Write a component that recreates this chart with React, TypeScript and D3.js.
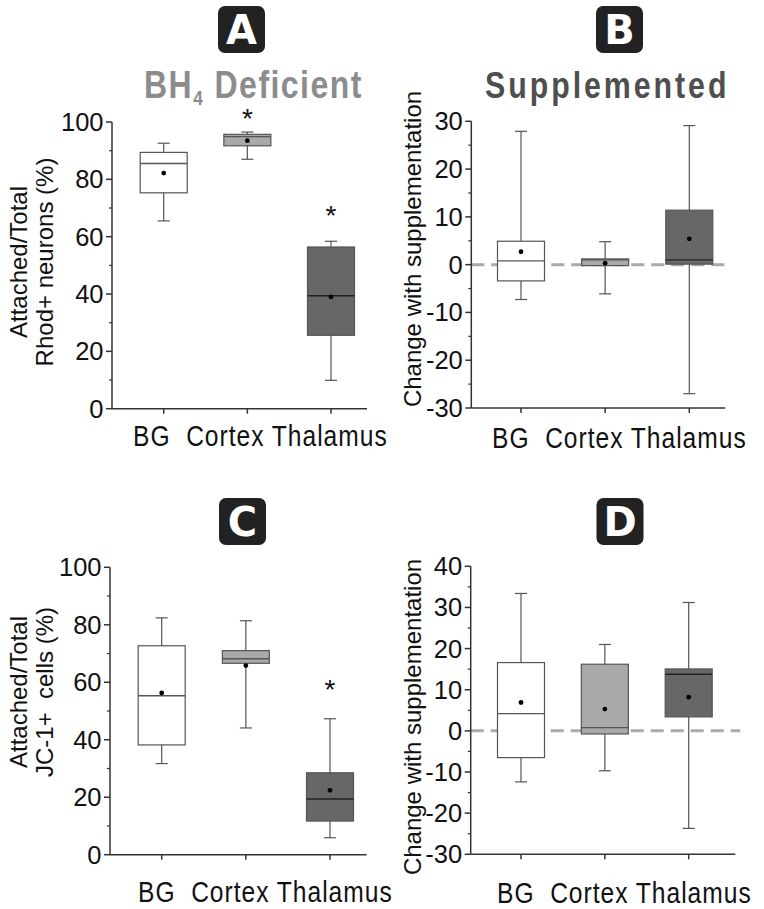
import React from "react";
import * as d3 from "d3";

const categories = ["BG", "Cortex", "Thalamus"];
const boxFills = ["#ffffff", "#a9a9a9", "#676767"];

// Panel A — BH4 deficient, Rhod+ neurons (%)
const aMin = [65.5, 87.0, 9.9];
const aQ1 = [75.3, 91.7, 25.6];
const aMed = [85.5, 94.9, 39.4];
const aQ3 = [89.4, 95.7, 56.4];
const aMax = [92.6, 96.5, 58.4];
const aMean = [82.2, 93.5, 39.0];
const aSig = [null, 103.5, 69.5];

// Panel B — change with supplementation
const bMin = [-7.3, -6.1, -27.0];
const bQ1 = [-3.4, -0.2, 0.1];
const bMed = [0.8, 1.0, 1.0];
const bQ3 = [4.9, 1.2, 11.4];
const bMax = [27.9, 4.8, 29.1];
const bMean = [2.7, 0.3, 5.4];

// Panel C — JC-1+ cells (%)
const cMin = [31.7, 44.1, 5.9];
const cQ1 = [38.2, 66.6, 11.7];
const cMed = [55.3, 68.2, 19.4];
const cQ3 = [72.7, 71.0, 28.5];
const cMax = [82.4, 81.4, 47.3];
const cMean = [56.3, 65.8, 22.4];
const cSig = [null, null, 59.6];

// Panel D — change with supplementation
const dMin = [-12.4, -9.7, -23.7];
const dQ1 = [-6.5, -0.75, 3.4];
const dMed = [4.2, 0.8, 13.75];
const dQ3 = [16.6, 16.2, 15.05];
const dMax = [33.4, 21.0, 31.2];
const dMean = [6.9, 5.3, 8.2];

const SANS = "'Liberation Sans', Arial, Helvetica, sans-serif";
const BADGE = "'DejaVu Sans', 'Liberation Sans', sans-serif";
const NARROW_SCALE = 0.82;

type Panel = {
  letter: string;
  min: number[]; q1: number[]; med: number[]; q3: number[]; max: number[]; mean: number[];
  sig: (number | null)[];
  domain: [number, number];
  majorStep: number; minorStep: number;
  axisX: number; xEnd: number; yTop: number; yBottom: number;
  catRange: [number, number];
  catLabelX: number; catLabelY: number;
  zero: boolean;
  titleLines: string[]; titleX: number[]; titleCY: number;
  badgeCX: number; badgeY: number;
};

const panels: Panel[] = [
  {
    letter: "A", min: aMin, q1: aQ1, med: aMed, q3: aQ3, max: aMax, mean: aMean, sig: aSig,
    domain: [0, 100], majorStep: 20, minorStep: 10,
    axisX: 112, xEnd: 367, yTop: 122, yBottom: 408.7, catRange: [163.7, 331],
    catLabelX: 133, catLabelY: 446, zero: false,
    titleLines: ["Attached/Total", "Rhod+ neurons (%)"], titleX: [27, 53], titleCY: 262,
    badgeCX: 241.5, badgeY: 6,
  },
  {
    letter: "B", min: bMin, q1: bQ1, med: bMed, q3: bQ3, max: bMax, mean: bMean, sig: [null, null, null],
    domain: [-30, 30], majorStep: 10, minorStep: 5,
    axisX: 471.3, xEnd: 725.3, yTop: 121.3, yBottom: 408, catRange: [521, 689.3],
    catLabelX: 492, catLabelY: 448, zero: true,
    titleLines: ["Change with supplementation"], titleX: [421], titleCY: 249,
    badgeCX: 619.5, badgeY: 6,
  },
  {
    letter: "C", min: cMin, q1: cQ1, med: cMed, q3: cQ3, max: cMax, mean: cMean, sig: cSig,
    domain: [0, 100], majorStep: 20, minorStep: 10,
    axisX: 110, xEnd: 366.7, yTop: 567.3, yBottom: 854.7, catRange: [161.7, 330],
    catLabelX: 138, catLabelY: 902, zero: false,
    titleLines: ["Attached/Total", "JC-1+  cells (%)"], titleX: [27, 53], titleCY: 692,
    badgeCX: 242.5, badgeY: 498,
  },
  {
    letter: "D", min: dMin, q1: dQ1, med: dMed, q3: dQ3, max: dMax, mean: dMean, sig: [null, null, null],
    domain: [-30, 40], majorStep: 10, minorStep: 5,
    axisX: 470.7, xEnd: 735.3, yTop: 566.3, yBottom: 854.3, catRange: [521, 688.7],
    catLabelX: 497, catLabelY: 903, zero: true,
    titleLines: ["Change with supplementation"], titleX: [421], titleCY: 717,
    badgeCX: 620, badgeY: 498,
  },
];

const BOX_W = 47;
const CAP_W = 12;
const AXIS = "#333333";
const LINE = "#555555";

function PanelView({ p }: { p: Panel }) {
  const y = d3.scaleLinear().domain(p.domain).range([p.yBottom, p.yTop]);
  const x = d3.scalePoint<string>().domain(categories).range(p.catRange);
  const major = d3.range(p.domain[0], p.domain[1] + 1e-9, p.majorStep);
  const minor = d3
    .range(p.domain[0], p.domain[1] + 1e-9, p.minorStep)
    .filter((v) => !major.some((m) => Math.abs(m - v) < 1e-9));

  return (
    <g>
      {/* badge */}
      <rect x={p.badgeCX - 23.5} y={p.badgeY} width={47} height={47} rx={7} fill="#222222" />
      <text x={p.badgeCX} y={p.badgeY + 38} textAnchor="middle" fontFamily={BADGE}
        fontWeight={900} fontSize={40} fill="#ffffff">{p.letter}</text>

      {/* y title */}
      {p.titleLines.map((t, i) => (
        <text key={i} transform={`translate(${p.titleX[i]},${p.titleCY}) rotate(-90)`}
          textAnchor="middle" fontFamily={SANS} fontSize={24} fill="#111"
          style={{ whiteSpace: "pre" }}>{t}</text>
      ))}

      {/* zero line */}
      {p.zero && (
        <line x1={p.axisX} x2={p.xEnd + 5} y1={y(0)} y2={y(0)} stroke="#aaaaaa"
          strokeWidth={3} strokeDasharray="13 7" />
      )}

      {/* boxes */}
      {categories.map((c, i) => {
        const cx = x(c)!;
        return (
          <g key={c}>
            <line x1={cx} x2={cx} y1={y(p.min[i])} y2={y(p.max[i])} stroke={LINE} strokeWidth={1.2} />
            <line x1={cx - CAP_W / 2} x2={cx + CAP_W / 2} y1={y(p.max[i])} y2={y(p.max[i])} stroke={LINE} strokeWidth={1.2} />
            <line x1={cx - CAP_W / 2} x2={cx + CAP_W / 2} y1={y(p.min[i])} y2={y(p.min[i])} stroke={LINE} strokeWidth={1.2} />
            <rect x={cx - BOX_W / 2} width={BOX_W} y={y(p.q3[i])} height={y(p.q1[i]) - y(p.q3[i])}
              fill={boxFills[i]} stroke={LINE} strokeWidth={1.2} />
            <line x1={cx - BOX_W / 2} x2={cx + BOX_W / 2} y1={y(p.med[i])} y2={y(p.med[i])}
              stroke={i === 2 ? "#222" : LINE} strokeWidth={1.4} />
            <circle cx={cx} cy={y(p.mean[i])} r={2.4} fill="#000" />
            {p.sig[i] != null && (
              <text x={cx} y={y(p.sig[i] as number) + 16} textAnchor="middle" fontFamily={SANS}
                fontSize={28} fill="#111">*</text>
            )}
          </g>
        );
      })}

      {/* y axis */}
      <line x1={p.axisX} x2={p.axisX} y1={p.yTop} y2={p.yBottom} stroke={AXIS} strokeWidth={1.5} />
      {major.map((v) => (
        <g key={"M" + v}>
          <line x1={p.axisX - 6} x2={p.axisX} y1={y(v)} y2={y(v)} stroke={AXIS} strokeWidth={1.5} />
          <text x={p.axisX - 8.5} y={y(v) + 9} textAnchor="end" fontFamily={SANS} fontSize={25.5} fill="#111">{v}</text>
        </g>
      ))}
      {minor.map((v) => (
        <line key={"m" + v} x1={p.axisX - 3} x2={p.axisX} y1={y(v)} y2={y(v)} stroke={AXIS} strokeWidth={1.2} />
      ))}

      {/* x axis */}
      <line x1={p.axisX} x2={p.xEnd} y1={p.yBottom} y2={p.yBottom} stroke={AXIS} strokeWidth={1.5} />
      {categories.map((c) => (
        <line key={c} x1={x(c)!} x2={x(c)!} y1={p.yBottom} y2={p.yBottom + 5} stroke={AXIS} strokeWidth={1.5} />
      ))}
      <g transform={`translate(${p.catLabelX},${p.catLabelY}) scale(${NARROW_SCALE},1)`}>
        <text x={0} y={0} fontFamily={SANS} fontSize={30} letterSpacing={1.2}
          fill="#111" style={{ whiteSpace: "pre" }}>
          {categories[0] + "  " + categories[1] + " " + categories[2]}
        </text>
      </g>
    </g>
  );
}

export default function App() {
  return (
    <svg width={764} height={909} viewBox="0 0 764 909"
      style={{ position: "absolute", left: 0, top: 0, background: "#fff" }}>
      <rect width={764} height={909} fill="#fff" />
      <g transform={`translate(144,98) scale(${NARROW_SCALE},1)`}>
        <text x={0} y={0} fontFamily={SANS} fontWeight={700} fontSize={39} letterSpacing={1.8} fill="#8c8c8c">
          <tspan>BH</tspan>
          <tspan fontSize={21} dy={7}>4</tspan>
          <tspan dy={-7}>{" Deficient"}</tspan>
        </text>
      </g>
      <g transform={`translate(485,98) scale(${NARROW_SCALE},1)`}>
        <text x={0} y={0} fontFamily={SANS} fontWeight={700} fontSize={37} letterSpacing={3.6} fill="#4f4f4f">
          Supplemented
        </text>
      </g>
      {panels.map((p) => (
        <PanelView key={p.letter} p={p} />
      ))}
    </svg>
  );
}
